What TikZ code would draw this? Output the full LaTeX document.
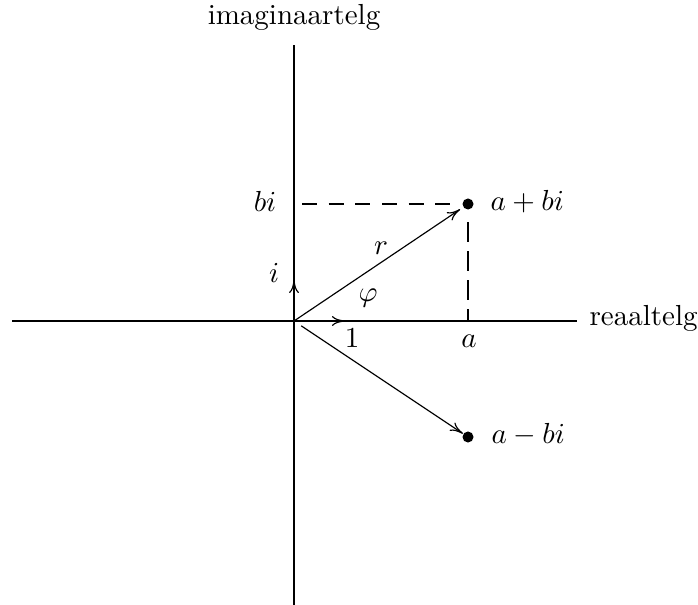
\documentclass[tikz,border=0pt]{standalone}
\usetikzlibrary{arrows.meta}
\begin{document}
\begin{tikzpicture}[x=0.34483pt,y=-0.34483pt,
  axis/.style={line width=0.4pt},
  vec/.style={-{To[length=4.5pt,width=3.4pt]}, line width=0.4pt},
  guideh/.style={line width=0.4pt, dash pattern=on 5.2pt off 4pt},
  guidev/.style={line width=0.4pt, dash pattern=on 6.9pt off 3.1pt},
  dot/.style={circle, fill, inner sep=0pt, minimum size=3.8pt},
  lbl/.style={inner sep=0pt, anchor=base}]
\useasboundingbox (0,0) rectangle (698,605);
\coordinate (O) at (294,321);
\coordinate (L) at (12,321);
\coordinate (R) at (577,321);
\coordinate (T) at (294,45);
\coordinate (B) at (294,605);
\coordinate (E1) at (345,321);
\coordinate (Ei) at (294,280);
\coordinate (Bi) at (302,204);
\coordinate (A) at (468,321);
\node[dot] (P) at (468,204) {};
\node[dot] (Q) at (468,437) {};
\draw[axis] (L) -- (R);
\draw[axis] (B) -- (T);
\node[lbl, anchor=base west] (re) at (589,326) {reaaltelg};
\node[lbl] (im) at (294,25) {imaginaartelg};
\draw[guideh] (Bi) -- (P);
\draw[guidev] (P.south) ++(0,12) coordinate (Pv) -- (A);
\draw[vec] (O) -- (E1);
\draw[vec] (O) -- (Ei);
\draw[vec, shorten >=1.2pt] (O) -- (P);
\draw[vec, shorten <=3pt] (O) -- (Q);
\node[lbl] (lbi) at (265,212) {$bi$};
\node[lbl] (li) at (274,283) {$i$};
\node[lbl] (lr) at (381,255) {$r$};
\node[lbl] (lphi) at (368,302) {$\varphi$};
\node[lbl] (l1) at (352,348) {$1$};
\node[lbl] (la) at (469,348) {$a$};
\node[lbl, anchor=base west] (lp) at (490,211) {$a+bi$};
\node[lbl, anchor=base west] (lq) at (491,444) {$a-bi$};
\end{tikzpicture}
\end{document}
